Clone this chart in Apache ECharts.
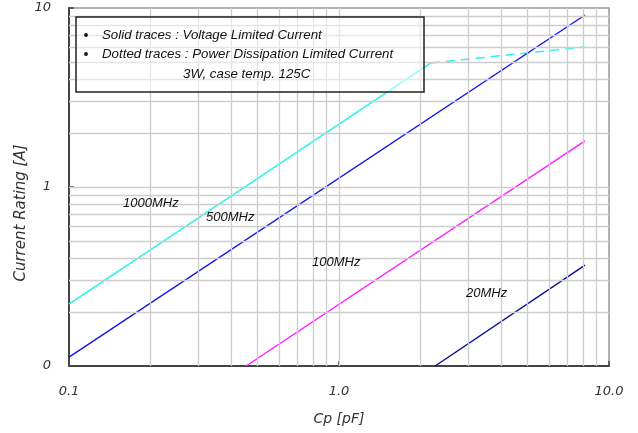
<!DOCTYPE html>
<html>
<head>
<meta charset="utf-8">
<script src="https://cdn.jsdelivr.net/npm/echarts@6/dist/echarts.min.js"></script>
<style>
html,body{margin:0;padding:0;background:#fff;}
#chart{width:638px;height:433px;}
</style>
</head>
<body>
<div id="chart"></div>
<script>
// ---- data ----
const xTicks = [0.1, 1, 10];
const xTickLabels = ['0.1', '1.0', '10.0'];
const yTicks = [0.1, 1, 10];
const yTickLabels = ['0', '1', '10'];
const xGridValues = [0.2, 0.3, 0.4, 0.5, 0.6, 0.7, 0.8, 0.9, 1, 2, 3, 4, 5, 6, 7, 8, 9];
const yGridValues = [0.2, 0.3, 0.4, 0.5, 0.6, 0.7, 0.8, 0.9, 1, 2, 3, 4, 5, 6, 7, 8, 9];

const seriesNames = ['1000MHz', '1000MHz (power limited)', '500MHz', '100MHz', '20MHz'];
const mhz1000Solid = [[0.1, 0.222], [2.19, 4.93]];
const mhz1000Dotted = [[2.19, 4.93], [8.15, 6.06]];
const mhz500 = [[0.1, 0.112], [8.15, 9.14]];
const mhz100 = [[0.453, 0.1], [8.15, 1.81]];
const mhz20 = [[2.27, 0.1], [8.15, 0.366]];

const legendLines = ['Solid traces : Voltage Limited Current', 'Dotted traces : Power Dissipation Limited Current', '3W, case temp. 125C'];
const curveLabels = ['1000MHz', '500MHz', '100MHz', '20MHz'];

// ---- chart ----
const chart = echarts.init(document.getElementById('chart'), null, {renderer: 'canvas'});
const tickFont = {fontFamily: 'DejaVu Sans', fontStyle: 'italic', fontSize: 13, color: '#333'};
const legendFont = 'italic 13.3px "Liberation Sans"';
const labelFont = 'italic 13px "Liberation Sans"';

function lookup(ticks, labels, v) {
  for (let i = 0; i < ticks.length; i++) {
    if (Math.abs(Math.log10(v) - Math.log10(ticks[i])) < 1e-6) return labels[i];
  }
  return '';
}

const gridLines = [];
xGridValues.forEach(v => gridLines.push({xAxis: v}));
yGridValues.forEach(v => gridLines.push({yAxis: v}));

const option = {
  animation: false,
  backgroundColor: '#fff',
  grid: {left: 69, right: 29, top: 8, bottom: 67, show: true, borderColor: '#999', borderWidth: 1.5, backgroundColor: 'transparent'},
  xAxis: {
    type: 'log', logBase: 10, min: 0.1, max: 10,
    name: 'Cp [pF]', nameLocation: 'middle', nameGap: 46,
    nameTextStyle: {fontFamily: 'DejaVu Sans', fontStyle: 'italic', fontSize: 14, color: '#333'},
    axisLine: {show: true, onZero: false, lineStyle: {color: '#444', width: 2}},
    axisTick: {show: true, inside: true, length: 5, lineStyle: {color: '#444', width: 1.5}},
    axisLabel: Object.assign({margin: 19, formatter: v => lookup(xTicks, xTickLabels, v)}, tickFont),
    splitLine: {show: false}, minorTick: {show: false}, minorSplitLine: {show: false}
  },
  yAxis: {
    type: 'log', logBase: 10, min: 0.1, max: 10,
    axisLine: {show: true, onZero: false, lineStyle: {color: '#444', width: 2}},
    axisTick: {show: true, inside: true, length: 5, lineStyle: {color: '#444', width: 1.5}},
    axisLabel: Object.assign({margin: 18, formatter: v => lookup(yTicks, yTickLabels, v)}, tickFont),
    splitLine: {show: false}, minorTick: {show: false}, minorSplitLine: {show: false}
  },
  series: [
    {
      type: 'line', data: [], z: 1, silent: true,
      markLine: {silent: true, symbol: 'none', label: {show: false}, animation: false,
        lineStyle: {color: '#cdcdcd', width: 1.3, type: 'solid'}, data: gridLines}
    },
    {name: seriesNames[0], type: 'line', data: mhz1000Solid, showSymbol: false, z: 3, lineStyle: {color: '#22f4f4', width: 1.5}},
    {name: seriesNames[1], type: 'line', data: mhz1000Dotted, showSymbol: false, z: 3, lineStyle: {color: '#22f4f4', width: 1.5, type: [9, 6]}},
    {name: seriesNames[2], type: 'line', data: mhz500, showSymbol: false, z: 3, lineStyle: {color: '#1212f0', width: 1.4}},
    {name: seriesNames[3], type: 'line', data: mhz100, showSymbol: false, z: 3, lineStyle: {color: '#ff1aff', width: 1.4}},
    {name: seriesNames[4], type: 'line', data: mhz20, showSymbol: false, z: 3, lineStyle: {color: '#0a0a8c', width: 1.4}}
  ],
  graphic: [
    {type: 'text', x: 21, y: 213, rotation: Math.PI / 2, z: 10,
      style: {text: 'Current Rating [A]', font: 'italic 15px "DejaVu Sans"', fill: '#333', textAlign: 'center', textVerticalAlign: 'middle'}},
    {type: 'rect', z: 10, shape: {x: 76, y: 17, width: 348, height: 75},
      style: {fill: 'rgba(255,255,255,0.5)', stroke: '#222', lineWidth: 1.5}},
    {type: 'circle', z: 11, shape: {cx: 86, cy: 35, r: 1.9}, style: {fill: '#111'}},
    {type: 'circle', z: 11, shape: {cx: 86, cy: 54, r: 1.9}, style: {fill: '#111'}},
    {type: 'text', z: 11, x: 102, y: 35, style: {text: legendLines[0], font: legendFont, fill: '#111', textVerticalAlign: 'middle'}},
    {type: 'text', z: 11, x: 102, y: 54, style: {text: legendLines[1], font: legendFont, fill: '#111', textVerticalAlign: 'middle'}},
    {type: 'text', z: 11, x: 183, y: 74, style: {text: legendLines[2], font: legendFont, fill: '#111', textVerticalAlign: 'middle'}},
    {type: 'text', z: 11, x: 123, y: 203, style: {text: curveLabels[0], font: labelFont, fill: '#111', textVerticalAlign: 'middle'}},
    {type: 'text', z: 11, x: 206, y: 217, style: {text: curveLabels[1], font: labelFont, fill: '#111', textVerticalAlign: 'middle'}},
    {type: 'text', z: 11, x: 312, y: 262, style: {text: curveLabels[2], font: labelFont, fill: '#111', textVerticalAlign: 'middle'}},
    {type: 'text', z: 11, x: 466, y: 293, style: {text: curveLabels[3], font: labelFont, fill: '#111', textVerticalAlign: 'middle'}}
  ]
};
chart.setOption(option);
</script>
</body>
</html>
